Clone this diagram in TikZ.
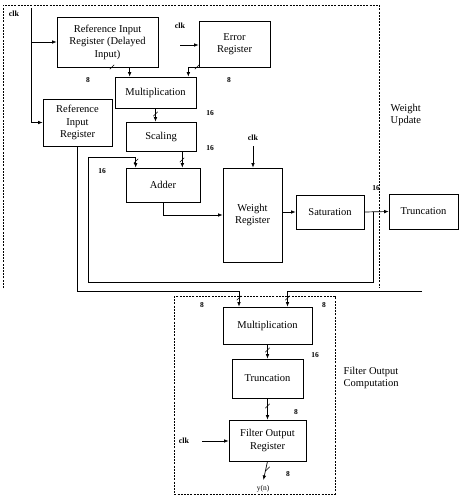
\documentclass[tikz,border=0pt]{standalone}
\usepackage{fontspec}
\setmainfont{Liberation Serif}
\usetikzlibrary{arrows.meta,positioning}

\begin{document}
\begin{tikzpicture}[x=1pt, y=-1pt, >={Latex[length=4.5pt,width=3.6pt]}, line width=0.7pt, font=\fontsize{10.5}{12.5}\selectfont,
        block/.style={draw, align=center, inner sep=1pt},
        num/.style={font=\fontsize{7.5}{9}\bfseries\selectfont, inner sep=0pt},
        clk/.style={font=\fontsize{8}{9}\bfseries\selectfont, inner sep=0pt},
        area/.style={dash pattern=on 2pt off 1.2pt, line width=0.9pt},
        buswidth/.pic={\draw[-, line width=0.5pt] (-2.2pt,-2.2pt) -- (2.2pt,2.2pt);}]
            \useasboundingbox (0,0) rectangle (463,501);
            \node[block, minimum width=101pt, minimum height=50pt] (refd)   at (107.5,42)   {Reference Input\\Register (Delayed\\Input)};
            \node[block, minimum width=71pt,  minimum height=46pt] (err)    at (234.5,44)   {Error\\Register};
            \node[block, minimum width=81pt,  minimum height=31pt] (mult)   at (155.5,92.5) {Multiplication};
            \node[block, minimum width=70pt,  minimum height=29pt] (scal)   at (161,136.5)  {Scaling};
            \node[block, minimum width=74pt,  minimum height=34pt] (adder)  at (163,185)    {Adder};
            \node[block, minimum width=69pt,  minimum height=47pt] (refin)  at (77.5,122.5) {Reference\\Input\\Register};
            \node[block, minimum width=59pt,  minimum height=94pt] (wreg)   at (252.5,215)  {Weight\\Register};
            \node[block, minimum width=68pt,  minimum height=34pt] (sat)    at (330,212)    {Saturation};
            \node[block, minimum width=69pt,  minimum height=35pt] (trunc)  at (423.5,211.5) {Truncation};
            \node[block, minimum width=89pt,  minimum height=37pt] (fmult)  at (267.5,325.5) {Multiplication};
            \node[block, minimum width=71pt,  minimum height=39pt] (ftrunc) at (267.5,378.5) {Truncation};
            \node[block, minimum width=77pt,  minimum height=41pt] (fout)   at (267.5,440.5) {Filter Output\\Register};

            \node[clk] (clk0) at (14,14)  {clk};
            \node[clk] (clk1) at (180,26) {clk};
            \node[clk] (clk2) at (253,138) {clk};
            \node[clk] (clk3) at (184,441) {clk};
            \coordinate (clkline) at (31,8);
            \coordinate (clk1in)  at (180,45);
            \coordinate (clk3in)  at (202,441);
            \draw[->] (clkline) |- (refd.west);
            \draw[->] (clkline) |- (refin.west);
            \draw[->] (clk1in) -- (clk1in -| err.west);
            \draw[->, shorten <=5pt] (clk2) -- (clk2 |- wreg.north);
            \draw[->] (clk3in) -- (clk3in -| fout.west);

            \coordinate (tap)  at (373,212);
            \coordinate (fbR)  at (373,282);
            \coordinate (fbL)  at (88,157);
            \coordinate (busA) at (239,291);
            \coordinate (wbus) at (422,291);
            \draw[->] (refd.south) -| ([xshift=15pt]mult.north west);
            \draw[->] (err.south) -| ([xshift=-8pt]mult.north east);
            \draw[->] (mult.south) -- (mult.south |- scal.north);
            \draw[->] ([xshift=-14pt]scal.south east) -- ([xshift=-14pt]scal.south east |- adder.north);
            \draw[->] (tap) -- (fbR) -| (fbL) -| ([xshift=10pt]adder.north west);
            \draw[->] (adder.south) |- (wreg.west);
            \draw[->] (wreg.east |- sat.west) -- (sat.west);
            \draw[->] (sat.east) -- (trunc.west);
            \draw[->] (refin.south) |- (busA) -- (busA |- fmult.north);
            \draw[->] (wbus) -| ([xshift=20pt]fmult.north);
            \draw[->] (fmult.south) -- (ftrunc.north);
            \draw[->] (ftrunc.south) -- (fout.north);
            \node[font=\fontsize{7.5}{9}\selectfont] (yn) at (263,489) {y(n)};
            \draw[->, shorten >=2pt] (fout.south) -- (yn.north);

            \pic at (112,67)  {buswidth};
            \pic at (197,67)  {buswidth};
            \pic at (155.5,114) {buswidth};
            \pic at (136,161) {buswidth};
            \pic at (182,160) {buswidth};
            \pic at (239,298) {buswidth};
            \pic at (287.5,298) {buswidth};
            \pic at (267.5,350) {buswidth};
            \pic at (267.5,406) {buswidth};
            \pic at (267.5,469) {buswidth};

            \node[num] (n1)  at (88,80)   {8};
            \node[num] (n2)  at (229,80)  {8};
            \node[num] (n3)  at (210,113) {16};
            \node[num] (n4)  at (210,148) {16};
            \node[num] (n5)  at (102,171) {16};
            \node[num] (n6)  at (376,188) {16};
            \node[num] (n7)  at (202,305) {8};
            \node[num] (n8)  at (324,305) {8};
            \node[num] (n9)  at (315,355) {16};
            \node[num] (n10) at (296,412) {8};
            \node[num] (n11) at (288,474) {8};

            \draw[area] (3,288) |- (379,5) -- (379,288);
            \draw[area] (174,296) rectangle (335,494);
            \node[align=left, anchor=west] (wu) at (387,115) {Weight\\Update};
            \node[align=left, anchor=west] (fo) at (340,378) {Filter Output\\Computation};
        \end{tikzpicture}
\end{document}
